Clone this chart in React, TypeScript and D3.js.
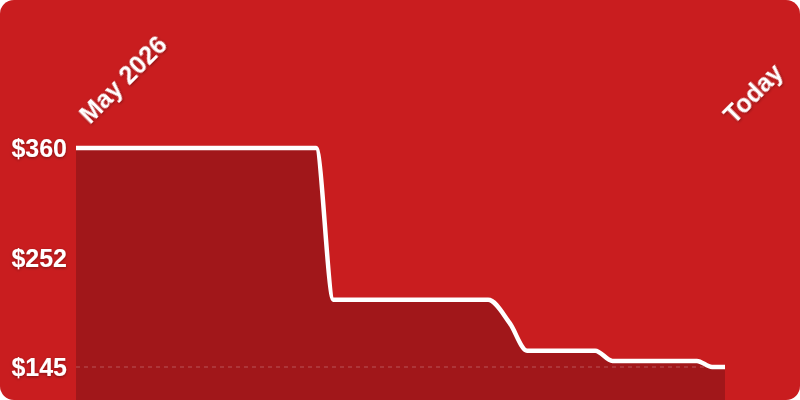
import { useEffect, useRef } from 'react';
import * as d3 from 'd3';

// price history: day offsets since the first sample, and the price on that day
const priceDays = [0, 22.2, 23.8, 38.1, 40.1, 41.7, 48.0, 49.6, 57.4, 58.8, 60];
const prices = [360, 360, 211, 211, 188, 161, 161, 151, 151, 145, 145];
const yTicks = [360, 252, 145];
const xLabels = ['May 2026', 'Today'];

type PricePoint = [number, number];

const PriceChart = () => {
  const svgRef = useRef<SVGSVGElement>(null);

  useEffect(() => {
    if (!svgRef.current) return;
    const width = 800;
    const height = 400;

    d3.select(svgRef.current).selectAll('*').remove();
    const svg = d3.select(svgRef.current);

    const defs = svg.append('defs');
    const shadow = defs.append('filter').attr('id', 'txt-shadow').attr('x', '-20%').attr('y', '-20%').attr('width', '140%').attr('height', '140%');
    shadow
      .append('feDropShadow')
      .attr('dx', 0)
      .attr('dy', 1)
      .attr('stdDeviation', 1.8)
      .attr('flood-color', '#000')
      .attr('flood-opacity', 0.4);
    defs
      .append('clipPath')
      .attr('id', 'card-clip')
      .append('rect')
      .attr('width', width)
      .attr('height', height)
      .attr('rx', 14);

    // 背景卡片
    svg.append('rect').attr('width', width).attr('height', height).attr('rx', 14).attr('fill', '#c91d1f');

    const data: PricePoint[] = priceDays.map((d, i) => [d, prices[i]]);

    const xScale = d3
      .scaleLinear()
      .domain(d3.extent(priceDays) as [number, number])
      .range([76, 725]);
    const yScale = d3
      .scaleLinear()
      .domain([d3.min(prices)!, d3.max(prices)!])
      .range([367, 148]);

    const g = svg.append('g').attr('clip-path', 'url(#card-clip)');

    const area = d3
      .area<PricePoint>()
      .x((d) => xScale(d[0]))
      .y0(height)
      .y1((d) => yScale(d[1]))
      .curve(d3.curveMonotoneX);

    g.append('path').datum(data).attr('fill', '#a1171a').attr('d', area);

    // 最低价虚线
    const minPrice = d3.min(prices)!;
    g.append('line')
      .attr('x1', xScale(priceDays[0]))
      .attr('x2', xScale(priceDays[priceDays.length - 1]))
      .attr('y1', yScale(minPrice))
      .attr('y2', yScale(minPrice))
      .attr('stroke', 'rgba(255,255,255,0.18)')
      .attr('stroke-width', 1.5)
      .attr('stroke-dasharray', '4 4');

    const line = d3
      .line<PricePoint>()
      .x((d) => xScale(d[0]))
      .y((d) => yScale(d[1]))
      .curve(d3.curveMonotoneX);

    g.append('path')
      .datum(data)
      .attr('fill', 'none')
      .attr('stroke', '#fff')
      .attr('stroke-width', 4.5)
      .attr('stroke-linejoin', 'round')
      .attr('d', line);

    // y轴标签
    svg
      .append('g')
      .selectAll('text')
      .data(yTicks)
      .join('text')
      .attr('x', 67)
      .attr('y', (d) => yScale(d))
      .attr('dy', '0.36em')
      .attr('text-anchor', 'end')
      .attr('fill', '#fff')
      .attr('font-family', '"Liberation Sans", Arial, sans-serif')
      .attr('font-weight', 'bold')
      .attr('font-size', 25)
      .attr('filter', 'url(#txt-shadow)')
      .text((d) => `$${d}`);

    // 起止日期标签
    const labelDays = [priceDays[0], priceDays[priceDays.length - 1]];
    const labelOffsets = [14, 9];
    svg
      .append('g')
      .selectAll('text')
      .data(xLabels)
      .join('text')
      .attr('transform', (_, i) => `translate(${xScale(labelDays[i]) + labelOffsets[i]},125) rotate(-45)`)
      .attr('fill', '#fff')
      .attr('font-family', '"Liberation Sans", Arial, sans-serif')
      .attr('font-weight', 'bold')
      .attr('font-size', 25)
      .attr('filter', 'url(#txt-shadow)')
      .text((d) => d);
  }, []);

  return (
    <svg
      ref={svgRef}
      width={800}
      height={400}
      style={{ position: 'absolute', left: 0, top: 0, display: 'block' }}
    />
  );
};

export default function App() {
  return <PriceChart />;
}
